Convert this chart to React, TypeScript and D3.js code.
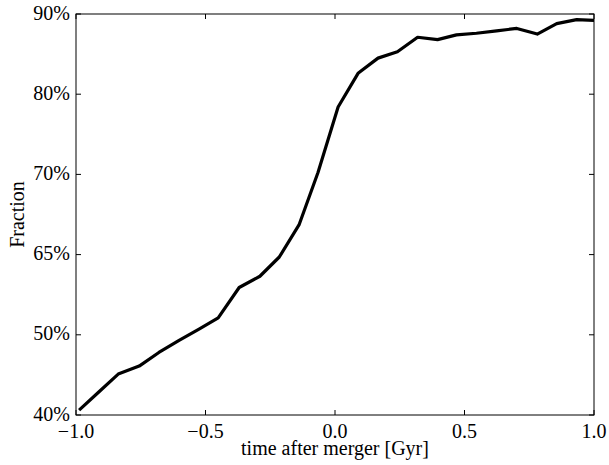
import React from "react";
import * as d3 from "d3";

const timeGyr = [-0.988, -0.911, -0.837, -0.756, -0.68, -0.602, -0.525, -0.451, -0.37, -0.29, -0.215, -0.139, -0.066, 0.012, 0.089, 0.166, 0.241, 0.319, 0.396, 0.469, 0.546, 0.624, 0.702, 0.781, 0.856, 0.933, 1.0];
const fraction = [0.406, 0.429, 0.451, 0.461, 0.478, 0.493, 0.507, 0.521, 0.559, 0.573, 0.597, 0.637, 0.702, 0.784, 0.826, 0.845, 0.853, 0.871, 0.868, 0.874, 0.876, 0.879, 0.882, 0.875, 0.888, 0.893, 0.892];
const xTicks = [-1.0, -0.5, 0.0, 0.5, 1.0];
const xTickLabels = ["\u22121.0", "\u22120.5", "0.0", "0.5", "1.0"];
const yTicks = [0.4, 0.5, 0.6, 0.7, 0.8, 0.9];
const yTickLabels = ["40%", "50%", "65%", "70%", "80%", "90%"];

const W = 609, H = 465;
const L = 76, R = 594, T = 14, B = 415;
const FONT = "'Liberation Serif', 'Times New Roman', serif";

export default function App() {
  const x = d3.scaleLinear().domain([-1, 1]).range([L, R]);
  const y = d3.scaleLinear().domain([0.4, 0.9]).range([B, T]);
  const pts = timeGyr.map((t, i) => [t, fraction[i]] as [number, number]);
  const line = d3.line<[number, number]>().x(d => x(d[0])).y(d => y(d[1]));
  const tl = 5;
  return (
    <svg width={W} height={H} style={{ position: "absolute", left: 0, top: 0, background: "#fff" }}>
      <defs>
        <clipPath id="plotclip">
          <rect x={L} y={T} width={R - L} height={B - T} />
        </clipPath>
      </defs>
      <rect x={0} y={0} width={W} height={H} fill="#fff" />
      <path d={line(pts) || ""} fill="none" stroke="#000" strokeWidth={3.2} strokeLinejoin="round" clipPath="url(#plotclip)" />
      <rect x={L} y={T} width={R - L} height={B - T} fill="none" stroke="#000" strokeWidth={1} />
      {xTicks.map((t, i) => (
        <g key={"x" + i}>
          <line x1={x(t)} x2={x(t)} y1={B} y2={B - tl} stroke="#000" strokeWidth={1} />
          <line x1={x(t)} x2={x(t)} y1={T} y2={T + tl} stroke="#000" strokeWidth={1} />
          <text x={x(t)} y={437.5} textAnchor="middle" fontFamily={FONT} fontSize={20} fill="#000">{xTickLabels[i]}</text>
        </g>
      ))}
      {yTicks.map((t, i) => (
        <g key={"y" + i}>
          <line x1={L} x2={L + tl} y1={y(t)} y2={y(t)} stroke="#000" strokeWidth={1} />
          <line x1={R} x2={R - tl} y1={y(t)} y2={y(t)} stroke="#000" strokeWidth={1} />
          <text x={L - 6} y={y(t) + 5.5} textAnchor="end" fontFamily={FONT} fontSize={20} fill="#000">{yTickLabels[i]}</text>
        </g>
      ))}
      <text x={(L + R) / 2} y={455} textAnchor="middle" fontFamily={FONT} fontSize={20} fill="#000">time after merger [Gyr]</text>
      <text transform={`translate(24, ${(T + B) / 2}) rotate(-90)`} textAnchor="middle" fontFamily={FONT} fontSize={20} fill="#000">Fraction</text>
    </svg>
  );
}
